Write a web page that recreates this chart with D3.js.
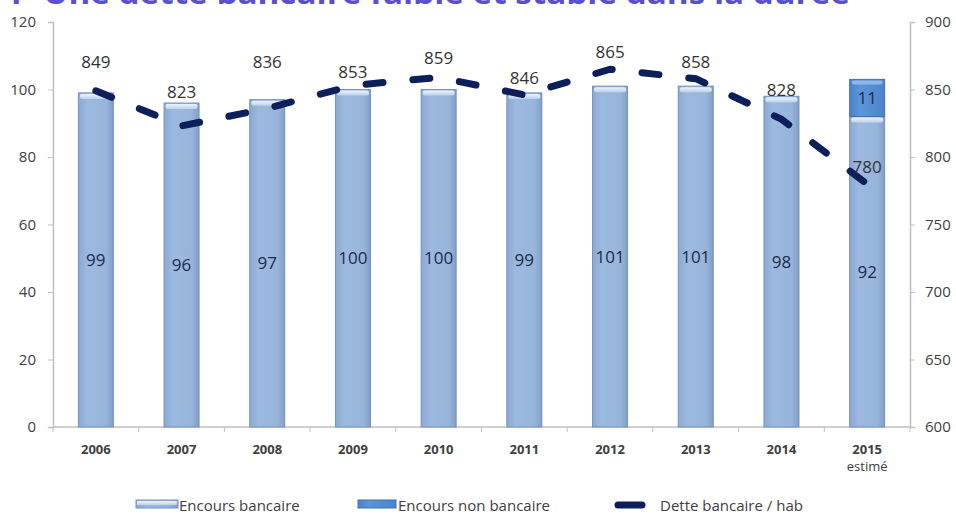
<!DOCTYPE html>
<html>
<head>
<meta charset="utf-8">
<script src="https://cdn.jsdelivr.net/npm/d3@7"></script>
<style>
  body { margin: 0; background: #fff; }
  text { font-family: "Open Sans", "DejaVu Sans", sans-serif; }
</style>
</head>
<body>
<div class="chart"></div>
<script>
// data
var years = ['2006', '2007', '2008', '2009', '2010', '2011', '2012', '2013', '2014', '2015'];
var yearNotes = ['', '', '', '', '', '', '', '', '', 'estimé'];
var encoursBancaire = [99, 96, 97, 100, 100, 99, 101, 101, 98, 92];
var encoursNonBancaire = [0, 0, 0, 0, 0, 0, 0, 0, 0, 11];
var detteParHab = [849, 823, 836, 853, 859, 846, 865, 858, 828, 780];
var leftTicks = [0, 20, 40, 60, 80, 100, 120];
var rightTicks = [600, 650, 700, 750, 800, 850, 900];
var legendLabels = ['Encours bancaire', 'Encours non bancaire', 'Dette bancaire / hab'];
var title = '1- Une dette bancaire faible et stable dans la durée';

// label offsets above the line (they were placed by hand in the original)
var lineLabelDy = [-29, -34, -46, -13, -19, -17, -17, -17, -29, -17];

var width = 956,
	height = 515,
	mLeft = 53,
	mRight = 910,
	mTop = 22,
	mBottom = 427;

var svg = d3.select('.chart').append('svg')
		.attr('width', width)
		.attr('height', height);

var defs = svg.append('defs');
var g1 = defs.append('linearGradient').attr('id', 'barGrad');
g1.append('stop').attr('offset', '0%').attr('stop-color', '#8aa9d2');
g1.append('stop').attr('offset', '25%').attr('stop-color', '#9cb9df');
g1.append('stop').attr('offset', '80%').attr('stop-color', '#97b5da');
g1.append('stop').attr('offset', '100%').attr('stop-color', '#7f9dc8');
var g2 = defs.append('linearGradient').attr('id', 'nbGrad');
g2.append('stop').attr('offset', '0%').attr('stop-color', '#4a82c8');
g2.append('stop').attr('offset', '30%').attr('stop-color', '#5c95d8');
g2.append('stop').attr('offset', '100%').attr('stop-color', '#4c84c9');
var g3 = defs.append('linearGradient').attr('id', 'capGrad')
	.attr('x1', 0).attr('x2', 0).attr('y1', 0).attr('y2', 1);
g3.append('stop').attr('offset', '0%').attr('stop-color', '#eef4fb');
g3.append('stop').attr('offset', '100%').attr('stop-color', '#bcd1ec');

// cut-off title
svg.append('text')
	.attr('x', 5)
	.attr('y', 4)
	.attr('textLength', 845)
	.attr('lengthAdjust', 'spacingAndGlyphs')
	.style('font-size', '30px')
	.style('font-weight', 'bold')
	.style('fill', '#5a4fd2')
	.text(title);

var x = d3.scaleBand().domain(years).range([mLeft, mRight]);
var yL = d3.scaleLinear().domain([0, 120]).range([mBottom, mTop]);
var yR = d3.scaleLinear().domain([600, 900]).range([mBottom, mTop]);

var axisColor = '#bfbfbf',
	labelColor = '#404040';

// left axis
var leftAxis = svg.append('g')
	.attr('transform', 'translate(' + mLeft + ',0)')
	.call(d3.axisLeft(yL).tickValues(leftTicks).tickSize(5).tickPadding(12));
// right axis
var rightAxis = svg.append('g')
	.attr('transform', 'translate(' + mRight + ',0)')
	.call(d3.axisRight(yR).tickValues(rightTicks).tickSize(5).tickPadding(10));
[leftAxis, rightAxis].forEach(function(a) {
	a.select('.domain').attr('stroke', axisColor).attr('stroke-width', 1.5);
	a.selectAll('line').attr('stroke', axisColor);
	a.selectAll('text').style('font-size', '15px').style('fill', labelColor)
		.style('font-family', '"Open Sans", sans-serif');
});

// category axis with ticks between bands
svg.append('line')
	.attr('x1', mLeft).attr('x2', mRight)
	.attr('y1', mBottom).attr('y2', mBottom)
	.attr('stroke', axisColor).attr('stroke-width', 1.5);
svg.append('g').selectAll('line')
	.data(years.concat(['end']))
	.enter().append('line')
	.attr('x1', function(d, i) { return mLeft + i * x.step(); })
	.attr('x2', function(d, i) { return mLeft + i * x.step(); })
	.attr('y1', mBottom).attr('y2', mBottom + 5)
	.attr('stroke', axisColor);

svg.append('g').selectAll('text')
	.data(years)
	.enter().append('text')
	.attr('x', function(d) { return x(d) + x.bandwidth() / 2; })
	.attr('y', 454)
	.attr('text-anchor', 'middle')
	.style('font-size', '13px')
	.style('font-weight', 'bold')
	.style('fill', labelColor)
	.text(function(d) { return d; });
svg.append('g').selectAll('text')
	.data(years.filter(function(d, i) { return yearNotes[i]; }))
	.enter().append('text')
	.attr('x', function(d) { return x(d) + x.bandwidth() / 2; })
	.attr('y', 471)
	.attr('text-anchor', 'middle')
	.style('font-size', '13px')
	.style('fill', labelColor)
	.text(function(d) { return yearNotes[years.indexOf(d)]; });

// bars
var barW = 35;
function bx(d, i) { return x(years[i]) + x.bandwidth() / 2 - barW / 2; }

var bars = svg.append('g').attr('class', 'bars');
bars.selectAll('.bank')
	.data(encoursBancaire)
	.enter().append('rect')
	.attr('class', 'bank')
	.attr('x', bx)
	.attr('y', function(d) { return yL(d); })
	.attr('width', barW)
	.attr('height', function(d) { return mBottom - yL(d); })
	.attr('fill', 'url(#barGrad)')
	.attr('stroke', '#7592bd')
	.attr('stroke-width', 1);
bars.selectAll('.bankcap')
	.data(encoursBancaire)
	.enter().append('rect')
	.attr('class', 'bankcap')
	.attr('x', function(d, i) { return bx(d, i) + 1.5; })
	.attr('y', function(d) { return yL(d) + 1; })
	.attr('width', barW - 3)
	.attr('height', 5)
	.attr('rx', 2)
	.attr('fill', 'url(#capGrad)');

var nb = encoursNonBancaire.map(function(v, i) { return {v: v, base: encoursBancaire[i], i: i}; })
	.filter(function(d) { return d.v > 0; });
bars.selectAll('.nonbank')
	.data(nb)
	.enter().append('rect')
	.attr('class', 'nonbank')
	.attr('x', function(d) { return bx(d, d.i); })
	.attr('y', function(d) { return yL(d.base + d.v); })
	.attr('width', barW)
	.attr('height', function(d) { return yL(d.base) - yL(d.base + d.v); })
	.attr('fill', 'url(#nbGrad)')
	.attr('stroke', '#3f72b4')
	.attr('stroke-width', 1);
bars.selectAll('.nbcap')
	.data(nb)
	.enter().append('rect')
	.attr('x', function(d) { return bx(d, d.i) + 2; })
	.attr('y', function(d) { return yL(d.base + d.v) + 1; })
	.attr('width', barW - 4)
	.attr('height', 4)
	.attr('rx', 2)
	.attr('fill', '#8fb6e6');

// bar labels
var barLabelColor = '#1c2b4a';
svg.append('g').selectAll('text')
	.data(encoursBancaire)
	.enter().append('text')
	.attr('x', function(d, i) { return x(years[i]) + x.bandwidth() / 2; })
	.attr('y', function(d) { return yL(d / 2); })
	.attr('dy', '0.35em')
	.attr('text-anchor', 'middle')
	.style('font-size', '17px')
	.style('fill', barLabelColor)
	.text(function(d) { return d; });
svg.append('g').selectAll('text')
	.data(nb)
	.enter().append('text')
	.attr('x', function(d) { return x(years[d.i]) + x.bandwidth() / 2; })
	.attr('y', function(d) { return yL(d.base + d.v / 2); })
	.attr('dy', '0.35em')
	.attr('text-anchor', 'middle')
	.style('font-size', '17px')
	.style('fill', barLabelColor)
	.text(function(d) { return d.v; });

// dashed line
var line = d3.line()
	.x(function(d, i) { return x(years[i]) + x.bandwidth() / 2; })
	.y(function(d) { return yR(d); });
svg.append('path')
	.datum(detteParHab)
	.attr('d', line)
	.attr('fill', 'none')
	.attr('stroke', '#0d1f5a')
	.attr('stroke-width', 7)
	.attr('stroke-linecap', 'round')
	.attr('stroke-dasharray', '17,30');

svg.append('g').selectAll('text')
	.data(detteParHab)
	.enter().append('text')
	.attr('x', function(d, i) { return x(years[i]) + x.bandwidth() / 2; })
	.attr('y', function(d, i) { return yR(d) + lineLabelDy[i]; })
	.attr('dy', '0.35em')
	.attr('text-anchor', 'middle')
	.style('font-size', '17px')
	.style('fill', '#333')
	.text(function(d) { return d; });

// legend
var lg = svg.append('g').attr('class', 'legend');
var ly = 506;
lg.append('rect').attr('x', 136).attr('y', ly - 6).attr('width', 42).attr('height', 8)
	.attr('fill', 'url(#barGrad)').attr('stroke', '#7592bd');
lg.append('rect').attr('x', 137).attr('y', ly - 5).attr('width', 40).attr('height', 4)
	.attr('fill', 'url(#capGrad)');
lg.append('text').attr('x', 179).attr('y', ly).attr('dy', '0.35em')
	.style('font-size', '15px').style('fill', labelColor).text(legendLabels[0]);
lg.append('rect').attr('x', 358).attr('y', ly - 6).attr('width', 38).attr('height', 8)
	.attr('fill', 'url(#nbGrad)').attr('stroke', '#3f72b4');
lg.append('text').attr('x', 398).attr('y', ly).attr('dy', '0.35em')
	.style('font-size', '15px').style('fill', labelColor).text(legendLabels[1]);
lg.append('line').attr('x1', 618).attr('x2', 642).attr('y1', ly - 1).attr('y2', ly - 1)
	.attr('stroke', '#0d1f5a').attr('stroke-width', 7).attr('stroke-linecap', 'round');
lg.append('text').attr('x', 660).attr('y', ly).attr('dy', '0.35em')
	.style('font-size', '15px').style('fill', labelColor).text(legendLabels[2]);
</script>
</body>
</html>
